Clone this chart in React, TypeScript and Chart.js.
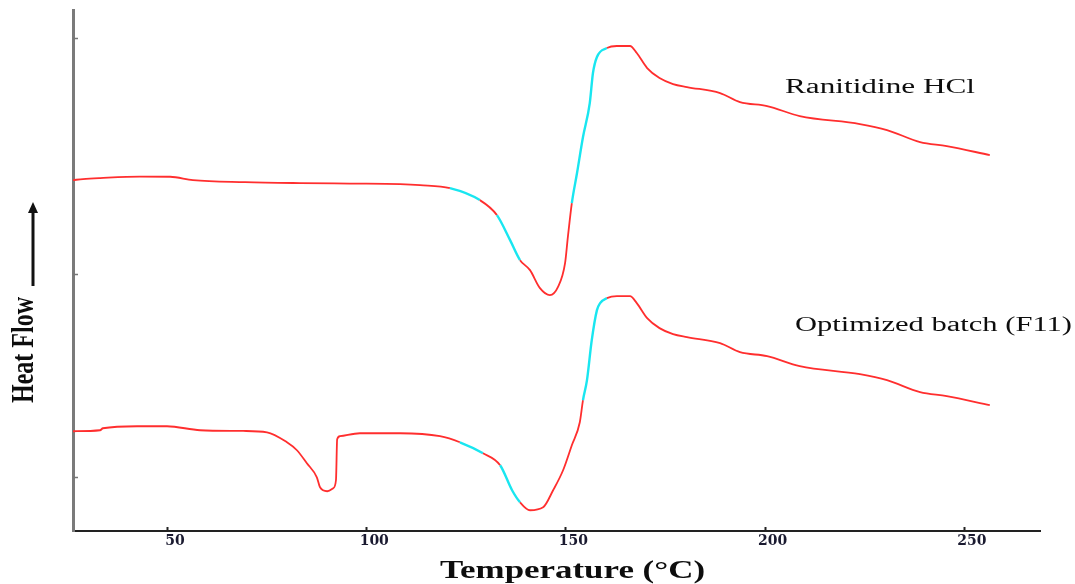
import React, { useEffect, useRef } from "react";
import { Chart, registerables } from "chart.js";

Chart.register(...registerables);

// ---- Data (temperature in °C, heat flow in arbitrary units) ----
const ranitidineTemp = [26.4, 28.9, 33.2, 43.2, 50.8, 56.5, 69.6, 83.4, 95.9, 108.5, 113.5, 121.0, 128.5, 132.8, 136.1, 138.6, 141.1, 143.6, 146.1, 148.1, 149.9, 150.6, 151.6, 152.9, 154.4, 156.1, 156.9, 157.9, 160.4, 162.9, 166.2, 167.9, 170.5, 173.6, 177.0, 180.5, 188.8, 193.8, 200.6, 208.8, 223.9, 230.7, 239.0, 245.7, 256.5];
const ranitidineFlow = [67.35, 67.55, 67.74, 68.02, 67.99, 67.35, 66.97, 66.78, 66.68, 66.58, 66.39, 65.81, 63.51, 60.63, 55.83, 51.99, 50.07, 46.61, 45.27, 46.8, 51.41, 56.41, 62.94, 68.7, 75.61, 82.14, 87.9, 90.98, 92.7, 93.09, 93.09, 91.74, 88.86, 86.94, 85.79, 85.21, 84.06, 82.33, 81.56, 79.64, 78.11, 76.96, 74.65, 73.88, 72.15];

const batchTemp = [26.4, 33.2, 33.9, 42.5, 50.0, 58.3, 69.1, 75.1, 80.1, 82.6, 85.1, 87.6, 88.4, 90.2, 91.7, 92.4, 92.7, 93.4, 98.4, 108.5, 118.5, 123.5, 129.3, 133.6, 136.6, 138.6, 141.1, 144.4, 146.9, 149.4, 151.6, 153.6, 154.4, 155.4, 156.6, 157.9, 158.7, 160.4, 162.9, 166.2, 167.9, 170.5, 173.6, 177.0, 180.5, 188.8, 193.8, 200.6, 208.8, 223.9, 230.7, 239.0, 245.7, 256.5];
const batchFlow = [19.15, 19.34, 19.72, 20.11, 20.11, 19.34, 19.2, 18.95, 17.03, 15.5, 13.0, 10.31, 8.39, 7.63, 8.2, 9.74, 17.61, 18.19, 18.76, 18.76, 18.19, 17.03, 14.92, 12.62, 7.82, 5.51, 3.98, 4.55, 7.82, 11.66, 16.46, 20.88, 25.11, 28.95, 36.63, 42.39, 43.74, 44.7, 45.08, 45.08, 43.74, 40.86, 38.94, 37.79, 37.21, 36.06, 34.33, 33.56, 31.64, 30.1, 28.95, 26.65, 25.88, 24.16];

const seriesNames = ["Ranitidine HCl", "Optimized batch (F11)"];
const xTickValues = [50, 100, 150, 200, 250];
const yTickValues = [10.3, 49.3, 94.6];
const xAxisTitle = "Temperature (\u00B0C)";
const yAxisTitle = "Heat Flow";

// temperature ranges where the trace is rendered cyan in the original
const ranitidineCyan = [[121, 128.4], [132.8, 138.5], [151.6, 160.3]];
const batchCyan = [[121, 129.2], [133.6, 138.5], [154.4, 160.3]];

const RED = "#ff2e2e";
const CYAN = "#19e6f0";

function inRanges(v: number, ranges: number[][]) {
  return ranges.some(([a, b]) => v >= a && v <= b);
}

const decorPlugin = {
  id: "decor",
  afterDraw(chart: any) {
    const { ctx, chartArea } = chart;
    const xs = chart.scales.x;
    const ys = chart.scales.y;
    ctx.save();

    // inward tick marks on x axis
    ctx.strokeStyle = "#222";
    ctx.lineWidth = 2;
    xTickValues.forEach((v) => {
      const px = Math.round(xs.getPixelForValue(v)) + 0.5;
      ctx.beginPath();
      ctx.moveTo(px, chartArea.bottom);
      ctx.lineTo(px, chartArea.bottom - 4);
      ctx.stroke();
    });
    // inward tick marks on y axis
    ctx.strokeStyle = "#777";
    ctx.lineWidth = 1.5;
    yTickValues.forEach((v) => {
      const py = Math.round(ys.getPixelForValue(v)) + 0.5;
      ctx.beginPath();
      ctx.moveTo(chartArea.left, py);
      ctx.lineTo(chartArea.left + 5, py);
      ctx.stroke();
    });

    const drawStretched = (text: string, x: number, y: number, font: string, width: number, align: CanvasTextAlign) => {
      ctx.save();
      ctx.font = font;
      const w = ctx.measureText(text).width;
      ctx.translate(x, y);
      ctx.scale(width / w, 1);
      ctx.textAlign = align;
      ctx.textBaseline = "middle";
      ctx.fillStyle = "#0d0d0d";
      ctx.fillText(text, 0, 0);
      ctx.restore();
    };

    // series labels
    drawStretched(seriesNames[0], xs.getPixelForValue(205.1), ys.getPixelForValue(85.0), "20px 'Liberation Serif'", 190, "left");
    drawStretched(seriesNames[1], xs.getPixelForValue(207.6), ys.getPixelForValue(39.3), "20px 'Liberation Serif'", 277, "left");

    // x axis title
    drawStretched(xAxisTitle, (chartArea.left + chartArea.right) / 2 + 16, 571, "bold 26px 'Liberation Serif'", 265, "center");

    // y axis title (rotated)
    ctx.save();
    ctx.translate(25, 350);
    ctx.rotate(-Math.PI / 2);
    ctx.scale(1, 1.35);
    ctx.font = "bold 24px 'Liberation Serif'";
    ctx.textAlign = "center";
    ctx.textBaseline = "middle";
    ctx.fillStyle = "#0d0d0d";
    ctx.fillText(yAxisTitle, 0, 0);
    ctx.restore();

    // arrow
    ctx.strokeStyle = "#111";
    ctx.fillStyle = "#111";
    ctx.lineWidth = 3;
    ctx.beginPath();
    ctx.moveTo(33, 286);
    ctx.lineTo(33, 210);
    ctx.stroke();
    ctx.beginPath();
    ctx.moveTo(33, 202);
    ctx.lineTo(28, 213);
    ctx.lineTo(38, 213);
    ctx.closePath();
    ctx.fill();

    ctx.restore();
  },
};

export default function App() {
  const ref = useRef<HTMLCanvasElement>(null);

  useEffect(() => {
    const makeSet = (label: string, t: number[], f: number[], cyan: number[][]) => ({
      label,
      data: t.map((x, i) => ({ x, y: f[i] })),
      borderColor: RED,
      borderWidth: 1.8,
      pointRadius: 0,
      fill: false,
      cubicInterpolationMode: "monotone" as const,
      segment: {
        borderColor: (c: any) => (inRanges(c.p0.parsed.x, cyan) ? CYAN : undefined),
        borderWidth: (c: any) => (inRanges(c.p0.parsed.x, cyan) ? 2.4 : undefined),
      },
    });

    const chart = new Chart(ref.current!, {
      type: "line",
      data: {
        datasets: [
          makeSet(seriesNames[0], ranitidineTemp, ranitidineFlow, ranitidineCyan),
          makeSet(seriesNames[1], batchTemp, batchFlow, batchCyan),
        ],
      },
      options: {
        animation: false,
        responsive: false,
        devicePixelRatio: 1,
        layout: { padding: { left: 0, top: 10, right: 35, bottom: 0 } },
        plugins: {
          legend: { display: false },
          tooltip: { enabled: false },
          title: { display: false },
        },
        scales: {
          x: {
            type: "linear",
            min: 26.4,
            max: 269.1,
            grid: { display: false, drawTicks: false },
            border: { display: true, color: "#222", width: 2 },
            afterBuildTicks: (s: any) => {
              s.ticks = xTickValues.map((v) => ({ value: v }));
            },
            afterFit: (s: any) => {
              s.height = 53;
            },
            ticks: {
              padding: 2,
              labelOffset: 8,
              color: "#1a1a30",
              font: { family: "'DejaVu Serif'", weight: "bold", size: 14 },
              maxRotation: 0,
              autoSkip: false,
            },
            title: { display: false },
          },
          y: {
            type: "linear",
            min: 0,
            max: 100,
            grid: { display: false, drawTicks: false },
            border: { display: true, color: "#7a7a7a", width: 3 },
            ticks: { display: false },
            afterFit: (s: any) => {
              s.width = 73;
            },
            title: { display: false },
          },
        },
      },
      plugins: [decorPlugin],
    });
    return () => chart.destroy();
  }, []);

  return (
    <div style={{ position: "fixed", left: 0, top: 0, width: 1075, height: 584, background: "#fff" }}>
      <canvas ref={ref} width={1075} height={584} style={{ display: "block", width: 1075, height: 584 }} />
    </div>
  );
}
